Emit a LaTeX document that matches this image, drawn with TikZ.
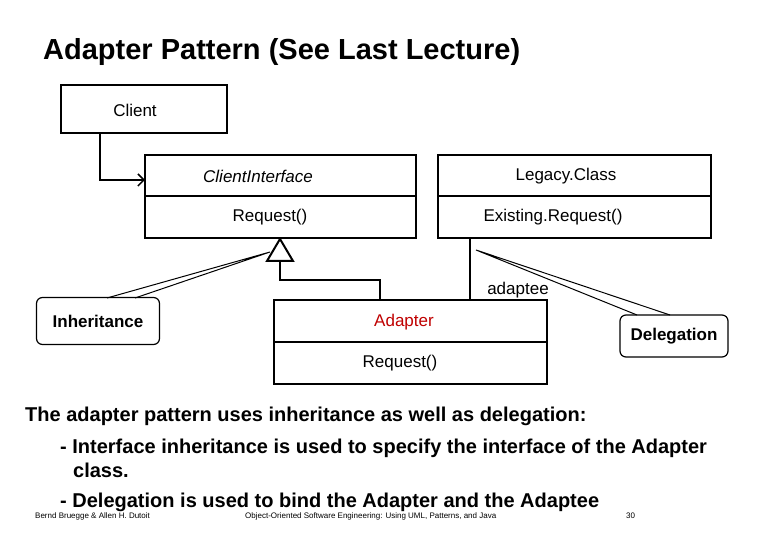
\documentclass[tikz,border=0pt]{standalone}
\usepackage{fontspec}
\setmainfont{Liberation Sans}
\usetikzlibrary{arrows.meta}
\begin{document}
\begin{tikzpicture}[x=1pt,y=-1pt,
  box/.style={draw,line width=2pt},
  lbl/.style={font=\fontsize{17}{19}\selectfont},
  note/.style={draw,line width=1.2pt,rounded corners=6pt},
  ptr/.style={line width=1pt},
  ln/.style={line width=2pt}]
\useasboundingbox (0,0) rectangle (780,540);
\node[anchor=west,inner sep=0pt,font=\fontsize{29}{32}\selectfont\bfseries] (title) at (43,52) {Adapter Pattern (See Last Lecture)};
% Client
\draw[box] (61,85) rectangle (227,133);
\node[lbl] (client) at (135,110) {Client};
\coordinate (cl) at (100,133);
% ClientInterface
\draw[box] (145,155) rectangle (416,238);
\draw[ln] (145,196) -- (416,196);
\node[lbl,font=\fontsize{17}{19}\selectfont\itshape] (ci) at (258,176) {ClientInterface};
\node[lbl] (cireq) at (270,217) {Request()};
\coordinate (ciin) at (145,180);
% Legacy
\draw[box] (438,155) rectangle (711,238);
\draw[ln] (438,196) -- (711,196);
\node[lbl] (lc) at (566,176) {Legacy.Class};
\node[lbl] (lcreq) at (553,217) {Existing.Request()};
% Client connector
\draw[ln,-{Straight Barb[length=6pt,width=12pt,line width=1.5pt]}] (cl) -- (100,180) -- (ciin);
% Adapter
\draw[box] (274,300) rectangle (547,384);
\draw[ln] (274,342) -- (547,342);
\node[lbl,text=red!75!black] (ad) at (404,322) {Adapter};
\node[lbl] (adreq) at (400,363) {Request()};
% generalization
\coordinate (apex) at (280,239);
\draw[ln,fill=white] (apex) -- (267,261) -- (293,261) -- cycle;
\draw[ln] (280,261) -- (280,280) -- (380,280) -- (380,300);
% association
\draw[ln] (470,238) -- (470,300);
\node[lbl] (adaptee) at (518,290) {adaptee};
% notes
\node[note,minimum width=123pt,minimum height=47pt,font=\fontsize{17}{19}\selectfont\bfseries] (inh) at (98,321) {Inheritance};
\draw[ptr] (107,298) -- (270,252) -- (135,298);
\node[note,minimum width=108pt,minimum height=42pt,font=\fontsize{17}{19}\selectfont\bfseries] (del) at (674,336) {Delegation};
\draw[ptr] (637,315) -- (476,250) -- (670,315);
% text
\begin{scope}[every node/.style={anchor=west,inner sep=0pt,font=\fontsize{20}{24}\selectfont\bfseries}]
\node (t1) at (25,416) {The adapter pattern uses inheritance as well as delegation:};
\node (t2) at (60,448) {- Interface inheritance is used to specify the interface of the Adapter};
\node (t3) at (73,470) {class.};
\node (t4) at (60,502) {- Delegation is used to bind the Adapter and the Adaptee};
\end{scope}
\begin{scope}[every node/.style={anchor=west,inner sep=0pt,font=\fontsize{8}{9}\selectfont}]
\node (f1) at (35,516) {Bernd Bruegge \& Allen H. Dutoit};
\node (f2) at (245,516) {Object-Oriented Software Engineering: Using UML, Patterns, and Java};
\node (f3) at (626,516) {30};
\end{scope}
\end{tikzpicture}
\end{document}
